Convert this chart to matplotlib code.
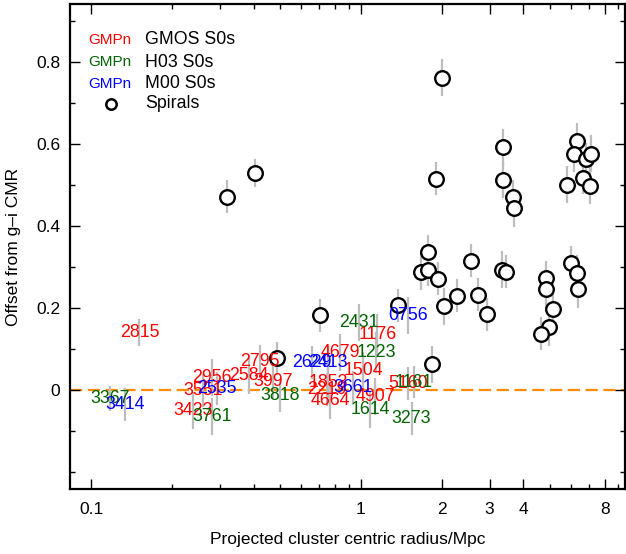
import matplotlib
matplotlib.use('Agg')
import matplotlib.pyplot as plt
from matplotlib.ticker import FixedLocator, NullFormatter

plt.rcParams['font.family'] = ['Liberation Sans', 'DejaVu Sans']

# spirals: projected radius (Mpc), offset from g-i CMR, error
spiral_r = [0.319, 0.405, 0.489, 0.705, 1.37, 1.83, 2.00, 1.90, 1.77, 1.67,
            1.77, 1.93, 2.55, 3.32, 3.44, 4.87, 4.87, 5.99, 6.34, 6.38,
            2.27, 2.71, 2.03, 2.94, 5.13, 4.98, 4.63, 3.37, 3.37, 3.66,
            3.70, 6.32, 6.15, 6.81, 7.14, 5.82, 6.66, 7.05]
spiral_off = [0.471, 0.529, 0.078, 0.183, 0.207, 0.063, 0.761, 0.515, 0.337, 0.289,
              0.294, 0.272, 0.315, 0.293, 0.289, 0.274, 0.246, 0.311, 0.285, 0.246,
              0.230, 0.233, 0.205, 0.185, 0.197, 0.153, 0.138, 0.592, 0.512, 0.471,
              0.443, 0.607, 0.576, 0.563, 0.576, 0.500, 0.518, 0.498]
spiral_err = [0.04, 0.035, 0.04, 0.04, 0.04, 0.045, 0.045, 0.04, 0.04, 0.045,
              0.04, 0.04, 0.04, 0.045, 0.04, 0.04, 0.045, 0.04, 0.045, 0.045,
              0.04, 0.04, 0.045, 0.04, 0.04, 0.045, 0.04, 0.045, 0.045, 0.04,
              0.045, 0.045, 0.045, 0.04, 0.045, 0.045, 0.04, 0.045]

# GMOS S0s
gmos_names = ['2815', '2956', '3551', '3423', '2795', '2584', '3997', '4679',
              '1176', '1504', '1853', '2219', '4664', '4907', '5160']
gmos_r = [0.151, 0.280, 0.260, 0.239, 0.422, 0.385, 0.473, 0.836,
          1.15, 1.02, 0.755, 0.748, 0.768, 1.13, 1.50]
gmos_off = [0.140, 0.032, 0.0, -0.049, 0.069, 0.035, 0.022, 0.093,
            0.136, 0.049, 0.020, 0.002, -0.024, -0.016, 0.016]
gmos_err = [0.033, 0.045, 0.04, 0.045, 0.04, 0.045, 0.04, 0.045,
            0.05, 0.045, 0.04, 0.04, 0.045, 0.045, 0.04]

# H03 S0s
h03_names = ['3367', '3761', '3818', '2431', '1223', '1614', '3273', '1161']
h03_r = [0.118, 0.280, 0.501, 0.986, 1.14, 1.08, 1.54, 1.57]
h03_off = [-0.020, -0.065, -0.012, 0.164, 0.093, -0.047, -0.069, 0.020]
h03_err = [0.03, 0.045, 0.04, 0.045, 0.05, 0.045, 0.04, 0.04]

# M00 S0s
m00_names = ['3414', '2535', '2629', '2413', '3661', '0756']
m00_r = [0.134, 0.292, 0.659, 0.755, 0.936, 1.50]
m00_off = [-0.034, 0.004, 0.067, 0.067, 0.007, 0.183]
m00_err = [0.04, 0.04, 0.04, 0.04, 0.04, 0.045]

groups = [
    (gmos_names, gmos_r, gmos_off, gmos_err, '#ff0000', 'GMOS S0s'),
    (h03_names, h03_r, h03_off, h03_err, '#006400', 'H03 S0s'),
    (m00_names, m00_r, m00_off, m00_err, '#0000ff', 'M00 S0s'),
]

fig = plt.figure(figsize=(6.26, 5.54), dpi=100)
ax = fig.add_axes([0.112, 0.117, 0.886, 0.876])
ax.set_xscale('log')
ax.set_xlim(0.0836, 9.5)
ax.set_ylim(-0.241, 0.941)

bar_col = '#bdbdbd'
ax.axhline(0, color='#ff8c00', lw=1.6, dashes=(5.5, 2.5), zorder=1)

for names, r, off, err, col, lab in groups:
    ax.errorbar(r, off, yerr=err, fmt='none', ecolor=bar_col, elinewidth=1.6,
                capsize=0, zorder=2)
    for n, x, y in zip(names, r, off):
        ax.text(x, y, n, color=col, fontsize=12.8, ha='center', va='center', zorder=4)

ax.errorbar(spiral_r, spiral_off, yerr=spiral_err, fmt='none', ecolor=bar_col,
            elinewidth=1.6, capsize=0, zorder=2)
ax.plot(spiral_r, spiral_off, 'o', ms=10.5, mfc='white', mec='black', mew=1.7,
        ls='none', zorder=3)

# legend drawn by hand, R style
leg_y = [0.926, 0.880, 0.835, 0.794]
for (names, r, off, err, col, lab), yy in zip(groups, leg_y):
    ax.text(0.072, yy, 'GMPn', color=col, fontsize=11, ha='center', va='center',
            transform=ax.transAxes)
    ax.text(0.135, yy, lab, color='black', fontsize=12.8, ha='left', va='center',
            transform=ax.transAxes)
ax.plot([0.074], [leg_y[3]], 'o', ms=7.5, mfc='white', mec='black', mew=1.8,
        transform=ax.transAxes)
ax.text(0.135, leg_y[3], 'Spirals', color='black', fontsize=12.8, ha='left',
        va='center', transform=ax.transAxes)

xmaj = [0.1, 1, 2, 3, 4, 8]
xmin = [0.2, 0.3, 0.4, 0.5, 0.6, 0.7, 0.8, 0.9, 5, 6, 7, 9]
ax.xaxis.set_major_locator(FixedLocator(xmaj))
ax.xaxis.set_minor_locator(FixedLocator(xmin))
ax.set_xticklabels(['0.1', '1', '2', '3', '4', '8'])
ax.xaxis.set_minor_formatter(NullFormatter())

ymaj = [0, 0.2, 0.4, 0.6, 0.8]
ymin = [-0.2, -0.1, 0.1, 0.3, 0.5, 0.7, 0.9]
ax.yaxis.set_major_locator(FixedLocator(ymaj))
ax.yaxis.set_minor_locator(FixedLocator(ymin))
ax.set_yticklabels(['0', '0.2', '0.4', '0.6', '0.8'])

ax.tick_params(which='both', direction='in', top=True, right=True, width=1.0)
ax.tick_params(which='major', length=7)
ax.tick_params(which='minor', length=3.5)
ax.tick_params(axis='x', which='both', pad=9, labelsize=12.5)
ax.tick_params(axis='y', which='both', pad=7, labelsize=12.5)
for s in ax.spines.values():
    s.set_linewidth(1.6)

ax.set_xlabel('Projected cluster centric radius/Mpc', fontsize=12.5, labelpad=11)
ax.set_ylabel('Offset from g\u2013i CMR', fontsize=12.5, labelpad=11)

fig.savefig('out.png', dpi=100)
